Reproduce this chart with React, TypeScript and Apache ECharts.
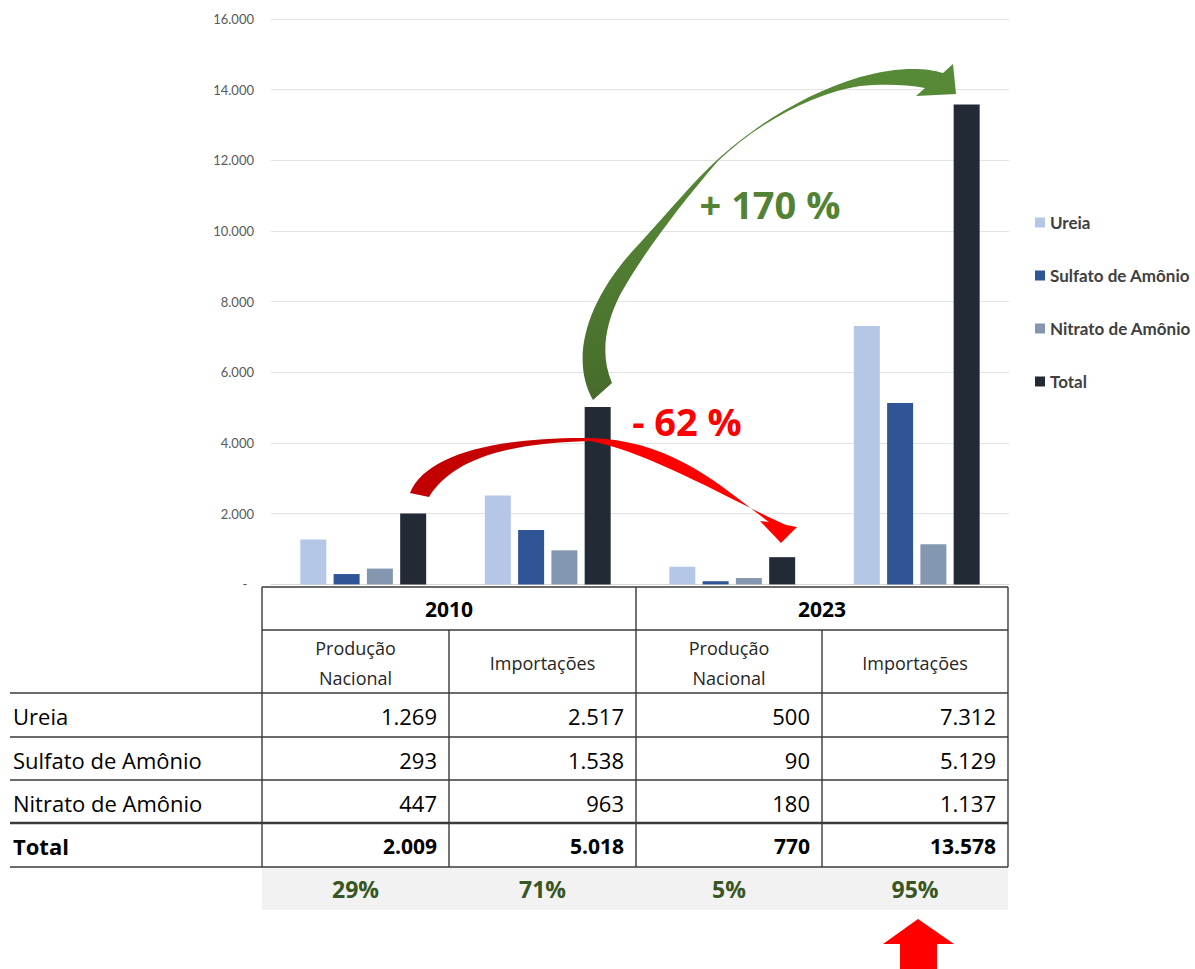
import React, { useEffect, useRef } from 'react';
import * as echarts from 'echarts';

const categories = ['2010 Produção Nacional', '2010 Importações', '2023 Produção Nacional', '2023 Importações'];
const years = ['2010', '2023'];
const columnHeaders = [['Produção', 'Nacional'], ['Importações'], ['Produção', 'Nacional'], ['Importações']];
const seriesNames = ['Ureia', 'Sulfato de Amônio', 'Nitrato de Amônio', 'Total'];
const ureia = [1269, 2517, 500, 7312];
const sulfato = [293, 1538, 90, 5129];
const nitrato = [447, 963, 180, 1137];
const total = [2009, 5018, 770, 13578];
const yMax = 16000;
const yInterval = 2000;
const changeLabels = ['+ 170 %', '- 62 %'];
const colors = ['#b4c7e7', '#2f5597', '#8497b0', '#222a35'];

const seriesData = [ureia, sulfato, nitrato, total];
const percentLabels = total.map((v, i) => {
  const pair = i < 2 ? total[0] + total[1] : total[2] + total[3];
  return Math.round((v / pair) * 100) + '%';
});

const fmt = (n: number) => String(n).replace(/\B(?=(\d{3})+(?!\d))/g, '.');

const RED_ARROW_D =
  'M410 493 C425 455 495 437 590 438 C675 440 725 490 769 522 L760 521 L781 543 L797 527 L786 525 C740 505 650 452 590 441 C505 443 452 460 429 497 Z';
const GREEN_ARROW_D =
  'M593 400 C570 360 585 300 640 243 C670 210 695 180 717 160 C750 130 800 95 860 77 C895 67 925 67 943 73 L953 64 L956 94 L916 96 L925 88 C905 84 880 84 860 86 C815 93 760 121 718 161 C680 205 642 255 620 295 C605 325 600 355 612 383 Z';

echarts.graphic.registerShape('redArrow', echarts.graphic.extendPath(RED_ARROW_D, {}));
echarts.graphic.registerShape('greenArrow', echarts.graphic.extendPath(GREEN_ARROW_D, {}));

const TABLE_FONT = '"Open Sans", "Noto Sans", sans-serif';
const BOLD_FONT = '"Open Sans", "Noto Sans", sans-serif';

function txt(text: string, x: number, y: number, o: any = {}) {
  const align = o.align || 'left';
  return {
    type: 'text',
    silent: true,
    z: 20,
    style: {
      text,
      x,
      y,
      fill: o.fill || '#000000',
      fontSize: o.fontSize || 22,
      fontFamily: o.fontFamily || TABLE_FONT,
      fontWeight: o.fontWeight || 'normal',
      align,
      textAlign: align,
      verticalAlign: 'middle',
      textVerticalAlign: 'middle',
    },
  };
}

function ln(x1: number, y1: number, x2: number, y2: number, w = 1.4) {
  return {
    type: 'line',
    silent: true,
    z: 15,
    shape: { x1, y1, x2, y2 },
    style: { stroke: '#3a3a3a', lineWidth: w },
  };
}

function buildTable() {
  const cols = [262, 449, 636, 822, 1008];
  const rows = [693, 737, 780, 823, 867];
  const els: any[] = [];
  els.push({
    type: 'rect',
    silent: true,
    z: 10,
    shape: { x: 262, y: 868, width: 746, height: 42 },
    style: { fill: '#f2f2f2' },
  });
  els.push(ln(262, 587, 1008, 587));
  els.push(ln(262, 630, 1008, 630));
  rows.forEach((y, i) => els.push(ln(10, y, 1008, y, i === 3 ? 2.4 : 1.4)));
  els.push(ln(262, 587, 262, 867));
  els.push(ln(636, 587, 636, 867));
  els.push(ln(1008, 587, 1008, 867));
  els.push(ln(449, 630, 449, 867));
  els.push(ln(822, 630, 822, 867));
  years.forEach((y, i) => {
    const cx = (cols[i * 2] + cols[i * 2 + 2]) / 2;
    els.push(txt(y, cx, 609, { align: 'center', fontWeight: 'bold', fontSize: 21 }));
  });
  columnHeaders.forEach((lines, i) => {
    const cx = (cols[i] + cols[i + 1]) / 2;
    if (lines.length === 2) {
      els.push(txt(lines[0], cx, 648, { align: 'center', fontSize: 18, fill: '#262626' }));
      els.push(txt(lines[1], cx, 678, { align: 'center', fontSize: 18, fill: '#262626' }));
    } else {
      els.push(txt(lines[0], cx, 663, { align: 'center', fontSize: 18, fill: '#262626' }));
    }
  });
  seriesNames.forEach((name, r) => {
    const cy = (rows[r] + rows[r + 1]) / 2 + 1;
    const bold = r === 3;
    els.push(txt(name, 13, cy, { fontWeight: bold ? 'bold' : 'normal', fontSize: 22 }));
    seriesData[r].forEach((v, c) => {
      els.push(
        txt(fmt(v), cols[c + 1] - 12, cy, {
          align: 'right',
          fontWeight: bold ? 'bold' : 'normal',
          fontSize: bold ? 21 : 22,
        })
      );
    });
  });
  percentLabels.forEach((p, c) => {
    const cx = (cols[c] + cols[c + 1]) / 2;
    els.push(txt(p, cx, 889, { align: 'center', fontWeight: 'bold', fontSize: 23, fill: '#375623', fontFamily: BOLD_FONT }));
  });
  return els;
}

function buildAnnotations() {
  const els: any[] = [];
  els.push({
    type: 'redArrow',
    silent: true,
    z: 30,
    x: 0,
    y: 0,
    style: {
      fill: new echarts.graphic.LinearGradient(0, 0, 1, 0, [
        { offset: 0, color: '#c00000' },
        { offset: 0.38, color: '#cc0000' },
        { offset: 0.55, color: '#ff0000' },
        { offset: 1, color: '#ff0000' },
      ]),
    },
  });
  els.push({
    type: 'greenArrow',
    silent: true,
    z: 30,
    x: 0,
    y: 0,
    style: {
      fill: new echarts.graphic.LinearGradient(0, 0, 0, 1, [
        { offset: 0, color: '#578a37' },
        { offset: 0.5, color: '#538135' },
        { offset: 1, color: '#476b2b' },
      ]),
    },
  });
  els.push(txt(changeLabels[0], 770, 204, { align: 'center', fontWeight: 'bold', fontSize: 38, fill: '#548235', fontFamily: BOLD_FONT }));
  els.push(txt(changeLabels[1], 687, 421, { align: 'center', fontWeight: 'bold', fontSize: 38, fill: '#ff0000', fontFamily: BOLD_FONT }));
  els.push({
    type: 'polygon',
    silent: true,
    z: 30,
    shape: {
      points: [
        [918, 919],
        [954, 944],
        [937, 944],
        [937, 975],
        [900, 975],
        [900, 944],
        [883, 944],
      ],
    },
    style: { fill: '#ff0000' },
  });
  return els;
}

export default function App() {
  const ref = useRef<HTMLDivElement>(null);
  useEffect(() => {
    if (!ref.current) return;
    const chart = echarts.init(ref.current, undefined, { renderer: 'svg' });
    chart.setOption({
      animation: false,
      backgroundColor: '#ffffff',
      grid: { left: 271, right: 186, top: 18.8, bottom: 384.6, containLabel: false },
      legend: {
        orient: 'vertical',
        left: 1030,
        top: 209,
        itemWidth: 10,
        itemHeight: 10,
        itemGap: 36,
        icon: 'rect',
        data: seriesNames,
        textStyle: {
          color: '#404040',
          fontSize: 17,
          fontWeight: 'bold',
          fontFamily: 'Lato, sans-serif',
          lineHeight: 16,
        },
      },
      xAxis: {
        type: 'category',
        data: categories,
        axisLine: { show: true, lineStyle: { color: '#d9d9d9' } },
        axisTick: { show: false },
        axisLabel: { show: false },
      },
      yAxis: {
        type: 'value',
        min: 0,
        max: yMax,
        interval: yInterval,
        axisLine: { show: false },
        axisTick: { show: false },
        splitLine: { lineStyle: { color: '#e3e3e3', width: 1 } },
        axisLabel: {
          margin: 17,
          color: '#595959',
          fontSize: 13,
          fontFamily: 'Lato, sans-serif',
          formatter: (v: number) => (v === 0 ? '-  ' : fmt(v)),
        },
      },
      series: seriesNames.map((name, i) => ({
        name,
        type: 'bar',
        data: seriesData[i],
        barWidth: 26,
        barGap: '28%',
        itemStyle: { color: colors[i] },
      })),
      graphic: { elements: [...buildTable(), ...buildAnnotations()] },
    });
    return () => chart.dispose();
  }, []);
  return <div ref={ref} style={{ position: 'absolute', left: 0, top: 0, width: 1195, height: 969 }} />;
}
